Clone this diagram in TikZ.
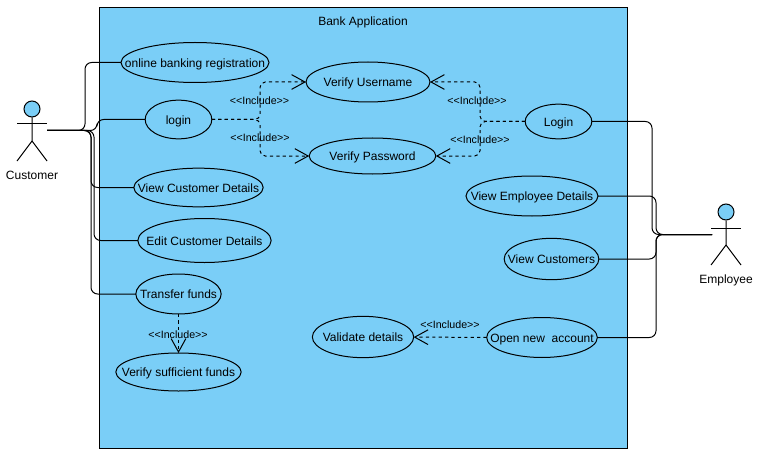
\documentclass[tikz,border=0pt]{standalone}
\usepackage{fontspec}
\setmainfont{Liberation Sans}
\usetikzlibrary{arrows.meta, shapes.geometric}
\definecolor{skyfill}{HTML}{7ACEF7}
\tikzset{every node/.style={font=\fontsize{9}{11}\selectfont},
	usecase/.style={draw, ellipse, inner sep=-20pt, outer sep=0pt, text height=8pt, text depth=1pt, minimum width=#1},
	caption/.style={text height=8pt, text depth=1pt},
	head/.style={draw, circle, fill=skyfill, inner sep=0pt, minimum size=12pt},
	tag/.style={font=\fontsize{8}{9}\selectfont, text height=7pt, text depth=1pt},
	assoc/.style={draw, rounded corners=5pt},
	incl/.style={draw, dashed, dash pattern=on 2.4pt off 2.4pt, rounded corners=4pt, -{Straight Barb[length=10pt,width=11pt]}}}
\newcommand{\inclword}{<{}<Include>{}>}

\begin{document}
\begin{tikzpicture}[x=0.75pt, y=-0.75pt, line width=0.75pt]
	\useasboundingbox (0,0) rectangle (784,456);
	\node[draw, fill=skyfill, minimum width=396pt, minimum height=330.5pt, inner sep=0pt, outer sep=0pt, anchor=north west] (system) at (99.5,7.5) {};
	\node[caption] at (363,20.5) (systemname) {Bank Application};

	% customer side
	\node[usecase=111pt, minimum height=30pt] (registration) at (195,62.5) {online banking registration};
	\node[usecase=50pt, minimum height=29pt] (login) at (178.5,119.5) {login};
	\node[usecase=97pt, minimum height=29pt] (viewcustdet) at (198.5,187.5) {View Customer Details};
	\node[usecase=100pt, minimum height=33pt] (editcust) at (204.5,240.5) {Edit Customer Details};
	\node[usecase=64pt, minimum height=30pt] (transfer) at (178.5,294) {Transfer funds};
	\node[usecase=94pt, minimum height=28.5pt] (sufficient) at (178.5,372) {Verify sufficient funds};

	% middle
	\node[usecase=93pt, minimum height=30pt] (username) at (368,82) {Verify Username};
	\node[usecase=95pt, minimum height=27pt] (password) at (372.5,156) {Verify Password};
	\node[usecase=76pt, minimum height=31pt] (validate) at (363,337) {Validate details};

	% employee side
	\node[usecase=50pt, minimum height=26pt] (emplogin) at (558.5,121.5) {Login};
	\node[usecase=99pt, minimum height=30pt] (viewempdet) at (532,196) {View Employee Details};
	\node[usecase=71pt, minimum height=31pt] (viewcust) at (551.5,259) {View Customers};
	\node[usecase=83pt, minimum height=30pt] (openacc) at (542,337.5) {Open new\ \ account};

	% actors
	\node[head] (custhead) at (32,109) {};
	\node[caption] (custname) at (32,174.5) {Customer};
	\coordinate (custhip) at (32,141);
	\coordinate (custhand) at (47,130.5);
	\draw (custhead) -- (custhip) -- (17,161);
	\draw (custhip) -- (47,161);
	\draw (17,124) -- (47,124);

	\node[head] (emphead) at (726,212) {};
	\node[caption] (empname) at (726,279) {Employee};
	\coordinate (emphip) at (726,245);
	\coordinate (emphand) at (712,234.5);
	\draw (emphead) -- (emphip) -- (711,265);
	\draw (emphip) -- (741,265);
	\draw (711,228) -- (741,228);

	\draw[assoc] (custhand) -- (85,130.5) |- (registration.west);
	\draw[assoc] (custhand) -- (97,130.5) |- (login.west);
	\draw[assoc] (custhand) -- (91,130.5) |- (viewcustdet.west);
	\draw[assoc] (custhand) -- (94,130.5) |- (editcust.west);
	\draw[assoc] (custhand) -- (91,130.5) |- (transfer.west);

	\draw[assoc] (emphand) -- (652,234.5) |- (emplogin.east);
	\draw[assoc] (emphand) -- (656,234.5) |- (viewempdet.east);
	\draw[assoc] (emphand) -- (656,234.5) |- (viewcust.east);
	\draw[assoc] (emphand) -- (656,234.5) |- (openacc.east);

	\draw[incl] (login.east) -- (260,119.5) |- (username.west);
	\draw[incl] (login.east) -- (260,119.5) |- (password.west);
	\draw[incl] (emplogin.west) -- (480,121.5) |- (username.east);
	\draw[incl] (emplogin.west) -- (480,121.5) |- (password.east);
	\draw[incl] (transfer) -- (sufficient);
	\draw[incl] (openacc) -- (validate);

	\node[tag] (inclusername) at (259.5,101) {\inclword};
	\node[tag] (inclpassword) at (260,138) {\inclword};
	\node[tag] (inclempuser) at (477,101) {\inclword};
	\node[tag] (inclemppass) at (480,139) {\inclword};
	\node[tag] (inclfunds) at (178,334) {\inclword};
	\node[tag] (incldetails) at (450,324) {\inclword};
\end{tikzpicture}
\end{document}
